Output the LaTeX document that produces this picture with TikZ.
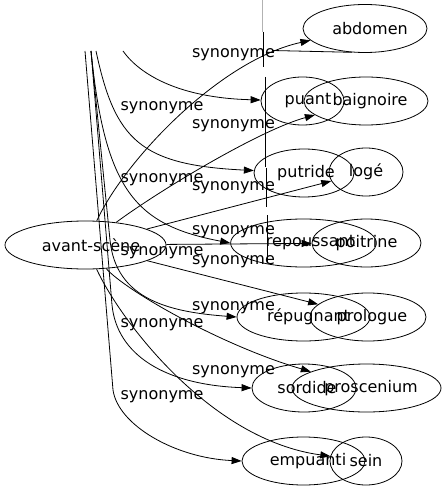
\documentclass[tikz,border=0pt]{standalone}
\usepackage{fontspec}
\setmainfont{DejaVu Sans}
\usetikzlibrary{shapes.geometric,arrows.meta}
\begin{document}
\begin{tikzpicture}[x=1bp,y=-1bp,
  every node/.style={font=\fontsize{16bp}{19bp}\selectfont, inner sep=0pt},
  ellip/.style={draw, ellipse, line width=0.8bp, minimum height=48bp},
  syn/.style={line width=0.8bp, -{Triangle[length=10bp,width=7bp]}},
  lbl/.style={anchor=mid},
  plain/.style={line width=0.8bp}]
\useasboundingbox (0,0) rectangle (446,491);

% nodes
\node[ellip, minimum width=161bp] (as) at (85.5,245) {\hspace*{11bp}avant-scène};
\node[ellip, minimum width=124bp] (abdomen) at (365,28.5) {\hspace*{10bp}abdomen};
\node[ellip, minimum width=83bp] (puant) at (302.5,101) {\hspace*{11bp}puant};
\node[ellip, minimum width=124bp] (baignoire) at (366,101) {\hspace*{8bp}baignoire};
\node[ellip, minimum width=100bp] (putride) at (304,173) {\hspace*{4bp}putride};
\node[ellip, minimum width=74bp] (loge) at (366,172) {logé};
\node[ellip, minimum width=136bp] (repoussant) at (303.5,243) {\hspace*{14bp}repoussant};
\node[ellip, minimum width=109bp] (poitrine) at (366.5,243) {poitrine};
\node[ellip, minimum width=133bp] (repugnant) at (303.5,317) {\hspace*{10bp}répugnant};
\node[ellip, minimum width=116bp] (prologue) at (368,317) {\hspace*{8bp}prologue};
\node[ellip, minimum width=104bp] (sordide) at (304,388) {\hspace*{6bp}sordide};
\node[ellip, minimum width=149bp] (proscenium) at (366.5,388) {\hspace*{9bp}proscenium};
\node[ellip, minimum width=123bp] (empuanti) at (303.5,461) {\hspace*{9bp}empuanti};
\node[ellip, minimum width=72bp] (sein) at (366,461) {sein};

% free ends of the cut-off edges
\coordinate (b1) at (123,51);
\coordinate (b2) at (96,51);
\coordinate (b3) at (91,51);
\coordinate (b4) at (85,51);

% edges from avant-scene
\draw[syn] (as) .. controls (125,160) and (220,60) .. (abdomen);
\draw[syn] (as) .. controls (160,190) and (260,130) .. (baignoire);
\draw[syn] (as) -- (loge);
\draw[syn] (as) -- (poitrine);
\draw[syn] (as) -- (prologue);
\draw[syn] (as) .. controls (125,290) and (220,345) .. (proscenium);
\draw[syn] (as) .. controls (120,320) and (210,440) .. (sein);

% edges from the hidden source
\draw[syn] (b1) .. controls (140,75) and (180,98) .. (puant);
\draw[syn] (b2) .. controls (115,140) and (140,165) .. (putride);
\draw[syn] (b3) .. controls (105,190) and (135,225) .. (repoussant.west);
\draw[syn] (b3) -- (110,240) .. controls (116,300) and (170,312) .. (repugnant.west);
\draw[syn] (b3) -- (112,305) .. controls (117,355) and (165,385) .. (sordide.west);
\draw[syn] (b4) -- (113,390) .. controls (118,425) and (175,458) .. (empuanti.west);

% stray line under abdomen
\draw[plain] (272,50.5) -- (352,52.3);

% vertical line
\draw[gray!60, line width=0.8bp] (262.7,0) -- (262.7,32);
\draw[plain] (263.3,32) -- (263.3,67);
\draw[plain] (265,77) -- (265,167);
\draw[plain] (266,168) -- (266,207);
\draw[plain] (267,215) -- (267,263);

% labels
\node[lbl] (la1) at (233.5,55) {synonyme};
\node[lbl] (la2) at (233.5,126) {synonyme};
\node[lbl] (la3) at (233.5,188) {synonyme};
\node[lbl] (la4) at (233.5,232) {synonyme};
\node[lbl] (la5) at (233.5,262) {synonyme};
\node[lbl] (la6) at (233.5,308) {synonyme};
\node[lbl] (la7) at (233.5,372) {synonyme};
\node[lbl] (lb1) at (162,108) {synonyme};
\node[lbl] (lb2) at (162,180) {synonyme};
\node[lbl] (lb3) at (162,253) {synonyme};
\node[lbl] (lb4) at (162,325) {synonyme};
\node[lbl] (lb5) at (162,397) {synonyme};
\end{tikzpicture}
\end{document}
